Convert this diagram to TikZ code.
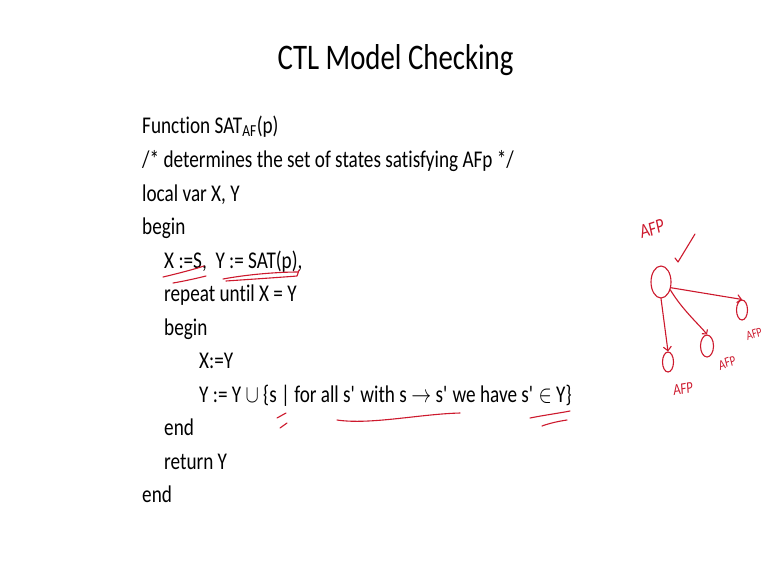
\documentclass[tikz,border=0pt]{standalone}
\usepackage{fontspec}
\setmainfont{Carlito}[FakeStretch=0.8, Ligatures={NoCommon}]
\usepackage{graphicx}
\usepackage{tikz}
\usetikzlibrary{arrows.meta, positioning, shapes.geometric}
\definecolor{inkred}{RGB}{205,25,45}
\newcommand{\sq}{\textquotesingle}
\newcommand{\nsym}[1]{\scalebox{0.8}[1]{$#1$}}

\begin{document}
\begin{tikzpicture}[x=1pt, y=-1pt,
  code/.style={anchor=base west, inner sep=0pt, font=\fontsize{24}{28}\selectfont},
  ink/.style={inkred, line width=1.1pt, line cap=round, line join=round},
  state/.style={ink, draw, ellipse, inner sep=0pt},
  hand/.style={inkred, inner sep=0pt, font=\fontsize{16}{16}\selectfont\itshape}]
  \useasboundingbox[fill=white] (0,0) rectangle (767,576);

  % Title
  \node[anchor=base, inner sep=0pt, font=\fontsize{36}{40}\selectfont] (title) at (395.5,69) {CTL Model Checking};

  % The procedure, one node per line
  \node[code] (fn)   at (142,133) {Function SAT\textsubscript{AF}(p)};
  \node[code] (cmt)  at (142,167) {/* determines the set of states satisfying AFp */};
  \node[code] (loc)  at (142,201) {local var X, Y};
  \node[code] (beg1) at (142,234) {begin};
  \node[code] (init) at (164,268) {X :=S,\ \ Y := SAT(p),};
  \node[code] (rep)  at (164,301) {repeat until X = Y};
  \node[code] (beg2) at (164,335) {begin};
  \node[code] (asg)  at (199,368) {X:=Y};
  \node[code] (upd)  at (199,402) {Y := Y \nsym{\cup} \{s | for all s\sq{} with s \nsym{\to} s\sq{} we have s\sq{} \nsym{\in} Y\}};
  \node[code] (end1) at (164,435) {end};
  \node[code] (ret)  at (164,469) {return Y};
  \node[code] (end2) at (142,502) {end};

  % Pen marks on the code
  \draw[ink] (163,277) .. controls (180,273) and (195,269) .. (204,266);
  \draw[ink] (173,283) .. controls (185,281) and (198,278) .. (206,276);
  \draw[ink] (223,279) .. controls (250,274) and (280,272) .. (298,272);
  \draw[ink] (226,281) .. controls (255,279) and (285,277) .. (297,276) -- (299,270);
  \draw[ink] (277,418) -- (286,413);
  \draw[ink] (280,428) -- (287,423);
  \draw[ink] (337,420) .. controls (370,425) and (420,414) .. (460,413);
  \draw[ink] (530,418) .. controls (545,415) and (560,413) .. (570,411);
  \draw[ink] (542,426) .. controls (550,423) and (560,421) .. (567,420);

  % Sketch: a state and its successors
  \node[state, minimum width=20, minimum height=32] (root) at (661,282) {};
  \node[state, minimum width=11, minimum height=20] (sr) at (742,310) {};
  \node[state, minimum width=11, minimum height=20] (sd) at (668,362) {};
  \node[state, minimum width=13, minimum height=22] (sm) at (707,346) {};

  \draw[ink, -{Straight Barb[length=4pt, width=8pt]}] (root.-30) -- (sr.north);
  \draw[ink, -{Straight Barb[length=4pt, width=8pt]}] (root.south) -- (sd.north);
  \draw[ink, -{Straight Barb[length=3pt, width=7pt]}] (root.-40) .. controls +(12,20) and +(-8,-10) .. (sm.north);

  % tick next to the state
  \draw[ink] (675,258) -- (678,262) -- (695,234);

  \node[hand, rotate=18, font=\fontsize{20}{20}\selectfont\itshape] (lroot) at (652,229) {AFP};
  \node[hand, rotate=10] (ld) at (683,389) {AFP};
  \node[hand, rotate=20, font=\fontsize{14}{14}\selectfont\itshape] (lm) at (727,363) {AFP};
  \node[hand, rotate=20, font=\fontsize{13}{13}\selectfont\itshape] (lr) at (754,334) {AFP};
\end{tikzpicture}
\end{document}
